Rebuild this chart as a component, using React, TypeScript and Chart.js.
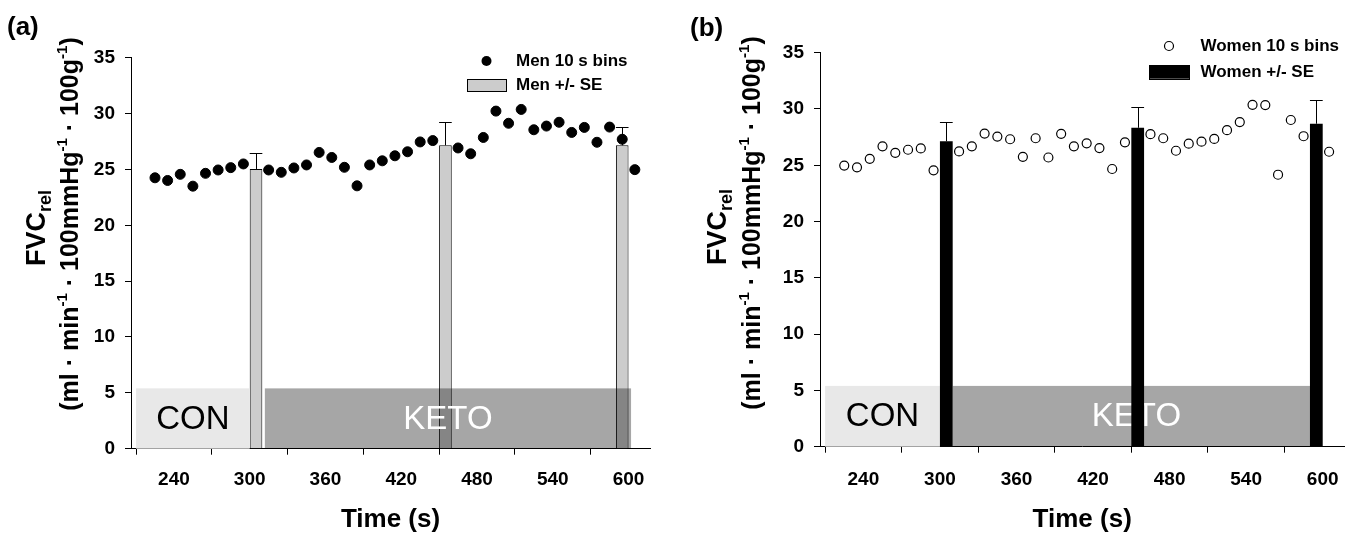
import React, { useEffect, useRef } from "react";
import { Chart, registerables } from "chart.js";

Chart.register(...registerables);

const FONT = "'Liberation Sans', Arial, Helvetica, sans-serif";

// ---- axes ----
const X_MIN = 206;
const X_MAX = 617;
const X_TICKS = [240, 300, 360, 420, 480, 540, 600];
const Y_MIN = 0;
const Y_MAX = 35;
const Y_TICKS = [0, 5, 10, 15, 20, 25, 30, 35];
const TICK_STEP = 60;
const BIN_WIDTH = 10;

// ---- panel (a): men ----
const MEN_TIME = [
  225, 235, 245, 255, 265, 275, 285, 295,
  315, 325, 335, 345, 355, 365, 375, 385, 395, 405, 415, 425, 435, 445,
  465, 475, 485, 495, 505, 515, 525, 535, 545, 555, 565, 575, 585,
  595, 605,
];
const MEN_FVC = [
  24.25, 24.01, 24.56, 23.5, 24.65, 24.95, 25.16, 25.49,
  24.95, 24.74, 25.13, 25.4, 26.52, 26.07, 25.19, 23.53, 25.4, 25.77, 26.22, 26.58, 27.46, 27.58,
  26.92, 26.4, 27.86, 30.22, 29.13, 30.37, 28.55, 28.88, 29.22, 28.31, 28.76, 27.43, 28.79,
  27.7, 24.98,
];

// ---- panel (b): women ----
const WOMEN_TIME = [
  225, 235, 245, 255, 265, 275, 285, 295,
  315, 325, 335, 345, 355, 365, 375, 385, 395, 405, 415, 425, 435, 445,
  465, 475, 485, 495, 505, 515, 525, 535, 545, 555, 565, 575, 585,
  605,
];
const WOMEN_FVC = [
  24.97, 24.82, 25.57, 26.68, 26.11, 26.38, 26.5, 24.55,
  26.23, 26.68, 27.82, 27.55, 27.31, 25.75, 27.4, 25.69, 27.79, 26.68, 26.95, 26.53, 24.67, 27.04,
  27.76, 27.4, 26.29, 26.92, 27.1, 27.34, 28.12, 28.84, 30.37, 30.35, 24.16, 29.02, 27.58,
  26.2,
];

// ---- mean +/- SE bins ----
const SE_TIME = [305, 455, 595];
const MEN_MEAN = [25.04, 27.16, 27.16];
const MEN_SE = [1.45, 2.06, 1.6];
const WOMEN_MEAN = [27.13, 28.33, 28.69];
const WOMEN_SE = [1.74, 1.84, 2.11];

// ---- phases ----
const PHASE_LABELS = ["CON", "KETO"];
const PHASE_TOP = 5.4;
const MEN_PHASE_START = [210, 312];
const MEN_PHASE_END = [300, 602];
const WOMEN_PHASE_START = [210, 310];
const WOMEN_PHASE_END = [300, 598];

// ---- texts ----
const X_TITLE = "Time (s)";
const MEN_LEGEND = ["Men 10 s bins", "Men +/- SE"];
const WOMEN_LEGEND = ["Women 10 s bins", "Women +/- SE"];

type Seg = { t: string; size: number; dy: number };
const Y_TITLE_LINE1: Seg[] = [
  { t: "FVC", size: 27, dy: 0 },
  { t: "rel", size: 18, dy: 6 },
];
const Y_TITLE_LINE2: Seg[] = [
  { t: "(ml · min", size: 25, dy: 0 },
  { t: "-1", size: 15, dy: -11 },
  { t: " · 100mmHg", size: 25, dy: 0 },
  { t: "-1", size: 15, dy: -11 },
  { t: " · 100g", size: 25, dy: 0 },
  { t: "-1", size: 15, dy: -11 },
  { t: ")", size: 25, dy: 0 },
];

type Panel = {
  W: number;
  H: number;
  area: { left: number; right: number; top: number; bottom: number };
  letter: string;
  letterPos: [number, number];
  titleBaselines: [number, number];
  titleCenterY: [number, number];
  xTickPad: number;
  legendText: string[];
  legendTextX: number;
  legendRowY: [number, number];
  markerX: number;
  legendBox: [number, number, number, number];
  hollow: boolean;
  barFill: string;
  phaseOnTop: boolean;
  time: number[];
  fvc: number[];
  mean: number[];
  se: number[];
  phaseStart: number[];
  phaseEnd: number[];
};

function drawSegs(ctx: CanvasRenderingContext2D, segs: Seg[], cy: number, baseX: number) {
  ctx.save();
  ctx.translate(baseX, cy);
  ctx.rotate(-Math.PI / 2);
  ctx.textBaseline = "alphabetic";
  ctx.textAlign = "left";
  let total = 0;
  const widths = segs.map((s) => {
    ctx.font = `bold ${s.size}px ${FONT}`;
    const w = ctx.measureText(s.t).width;
    total += w;
    return w;
  });
  let x = -total / 2;
  segs.forEach((s, i) => {
    ctx.font = `bold ${s.size}px ${FONT}`;
    ctx.fillText(s.t, x, s.dy);
    x += widths[i];
  });
  ctx.restore();
}

function makeChart(canvas: HTMLCanvasElement, p: Panel) {
  const phaseDraw = (chart: any) => {
    const { ctx, scales } = chart;
    const x = scales.x;
    const y = scales.y;
    const top = y.getPixelForValue(PHASE_TOP);
    const bottom = y.getPixelForValue(0);
    const fills = ["#e8e8e8", "rgba(0,0,0,0.35)"];
    const colors = ["#000000", "#ffffff"];
    ctx.save();
    p.phaseStart.forEach((s, i) => {
      const l = x.getPixelForValue(s);
      const r = x.getPixelForValue(p.phaseEnd[i]);
      ctx.fillStyle = fills[i];
      ctx.fillRect(l, top, r - l, bottom - top);
    });
    ctx.font = `33px ${FONT}`;
    ctx.textAlign = "center";
    ctx.textBaseline = "middle";
    p.phaseStart.forEach((s, i) => {
      const l = x.getPixelForValue(s);
      const r = x.getPixelForValue(p.phaseEnd[i]);
      ctx.fillStyle = colors[i];
      ctx.fillText(PHASE_LABELS[i], (l + r) / 2, (top + bottom) / 2 + 1);
    });
    ctx.restore();
  };

  const phasePlugin: any = { id: "phases" };
  if (p.phaseOnTop) phasePlugin.afterDatasetsDraw = phaseDraw;
  else phasePlugin.beforeDatasetsDraw = phaseDraw;

  const errPlugin = {
    id: "errbars",
    afterDatasetsDraw(chart: any) {
      const { ctx } = chart;
      const y = chart.scales.y;
      const meta = chart.getDatasetMeta(0);
      ctx.save();
      ctx.strokeStyle = "#000";
      ctx.lineWidth = 1;
      meta.data.forEach((bar: any, i: number) => {
        const { x: cx, y: top, width } = bar.getProps(["x", "y", "width"], true);
        const tip = Math.round(y.getPixelForValue(p.mean[i] + p.se[i])) + 0.5;
        const sx = Math.round(cx) + 0.5;
        ctx.beginPath();
        ctx.moveTo(sx, top);
        ctx.lineTo(sx, tip);
        ctx.moveTo(cx - width / 2, tip);
        ctx.lineTo(cx + width / 2, tip);
        ctx.stroke();
      });
      ctx.restore();
    },
  };

  const decoPlugin = {
    id: "deco",
    afterDraw(chart: any) {
      const { ctx } = chart;
      ctx.save();
      ctx.fillStyle = "#000";
      ctx.font = `bold 26px ${FONT}`;
      ctx.textAlign = "left";
      ctx.textBaseline = "middle";
      ctx.fillText(p.letter, p.letterPos[0], p.letterPos[1]);
      drawSegs(ctx, Y_TITLE_LINE1, p.titleCenterY[0], p.titleBaselines[0]);
      drawSegs(ctx, Y_TITLE_LINE2, p.titleCenterY[1], p.titleBaselines[1]);
      ctx.font = `bold 17px ${FONT}`;
      ctx.textAlign = "left";
      ctx.textBaseline = "middle";
      ctx.fillStyle = "#000";
      ctx.fillText(p.legendText[0], p.legendTextX, p.legendRowY[0]);
      ctx.fillText(p.legendText[1], p.legendTextX, p.legendRowY[1]);
      ctx.beginPath();
      ctx.arc(p.markerX, p.legendRowY[0], p.hollow ? 4.5 : 5, 0, Math.PI * 2);
      if (p.hollow) {
        ctx.fillStyle = "#fff";
        ctx.fill();
        ctx.lineWidth = 1.2;
        ctx.strokeStyle = "#000";
        ctx.stroke();
      } else {
        ctx.fillStyle = "#000";
        ctx.fill();
      }
      const [bx, by, bw, bh] = p.legendBox;
      ctx.fillStyle = p.barFill;
      ctx.fillRect(bx, by, bw, bh);
      ctx.lineWidth = 1;
      ctx.strokeStyle = "#000";
      ctx.strokeRect(Math.round(bx) + 0.5, Math.round(by) + 0.5, Math.round(bw), Math.round(bh));
      ctx.restore();
    },
  };

  const axisCommon = {
    grid: {
      display: true,
      drawOnChartArea: false,
      drawTicks: true,
      tickLength: 6,
      color: "#000",
      lineWidth: 1,
    },
    border: { display: true, color: "#000", width: 1 },
  };

  return new Chart(canvas, {
    type: "scatter",
    data: {
      datasets: [
        {
          type: "bar",
          data: SE_TIME.map((t, i) => ({ x: t, y: p.mean[i] })),
          backgroundColor: p.barFill,
          borderColor: "#000",
          borderWidth: p.hollow ? 0 : 1,
          borderSkipped: "start",
          categoryPercentage: 1,
          barPercentage: BIN_WIDTH / TICK_STEP,
          order: 2,
        } as any,
        {
          type: "scatter",
          data: p.time.map((t, i) => ({ x: t, y: p.fvc[i] })),
          pointRadius: p.hollow ? 4.5 : 5,
          pointBackgroundColor: p.hollow ? "#ffffff" : "#000000",
          pointBorderColor: "#000000",
          pointBorderWidth: p.hollow ? 1.2 : 1,
          order: 1,
        } as any,
      ],
    },
    options: {
      animation: false,
      responsive: false,
      devicePixelRatio: 1,
      events: [],
      layout: {
        padding: { left: 0, top: p.area.top, right: p.W - p.area.right, bottom: 0 },
      },
      plugins: {
        legend: { display: false },
        tooltip: { enabled: false },
        title: { display: false },
      },
      scales: {
        x: {
          type: "linear",
          min: X_MIN,
          max: X_MAX,
          offset: false,
          ...axisCommon,
          afterBuildTicks: (s: any) => {
            s.ticks = X_TICKS.map((v) => ({ value: v }));
          },
          afterFit: (s: any) => {
            s.height = p.H - p.area.bottom;
          },
          ticks: {
            color: "#000",
            font: { family: FONT, size: 19, weight: "bold" },
            padding: p.xTickPad,
            maxRotation: 0,
            autoSkip: false,
          },
          title: {
            display: true,
            text: X_TITLE,
            color: "#000",
            font: { family: FONT, size: 26, weight: "bold" },
            padding: { top: 0, bottom: 2 },
          },
        } as any,
        y: {
          type: "linear",
          min: Y_MIN,
          max: Y_MAX,
          ...axisCommon,
          afterBuildTicks: (s: any) => {
            s.ticks = Y_TICKS.map((v) => ({ value: v }));
          },
          afterFit: (s: any) => {
            s.width = p.area.left;
          },
          ticks: {
            color: "#000",
            font: { family: FONT, size: 19, weight: "bold" },
            padding: 10,
          },
        } as any,
      },
    },
    plugins: [phasePlugin, errPlugin, decoPlugin],
  } as any);
}

const PANEL_A: Panel = {
  W: 680,
  H: 537,
  area: { left: 131, right: 650, top: 57.7, bottom: 448.7 },
  letter: "(a)",
  letterPos: [7, 28],
  titleBaselines: [44.5, 78],
  titleCenterY: [228, 224],
  xTickPad: 14,
  legendText: MEN_LEGEND,
  legendTextX: 516,
  legendRowY: [61, 85.3],
  markerX: 486.5,
  legendBox: [467, 79.4, 39, 11.8],
  hollow: false,
  barFill: "#cccccc",
  phaseOnTop: true,
  time: MEN_TIME,
  fvc: MEN_FVC,
  mean: MEN_MEAN,
  se: MEN_SE,
  phaseStart: MEN_PHASE_START,
  phaseEnd: MEN_PHASE_END,
};

const PANEL_B: Panel = {
  W: 685,
  H: 537,
  area: { left: 140, right: 664.4, top: 52.7, bottom: 446.7 },
  letter: "(b)",
  letterPos: [10, 29],
  titleBaselines: [46, 80],
  titleCenterY: [227, 223],
  xTickPad: 16,
  legendText: WOMEN_LEGEND,
  legendTextX: 520.5,
  legendRowY: [46, 72],
  markerX: 489,
  legendBox: [469, 65.2, 40, 13.5],
  hollow: true,
  barFill: "#000000",
  phaseOnTop: false,
  time: WOMEN_TIME,
  fvc: WOMEN_FVC,
  mean: WOMEN_MEAN,
  se: WOMEN_SE,
  phaseStart: WOMEN_PHASE_START,
  phaseEnd: WOMEN_PHASE_END,
};

function PanelChart({ panel, left }: { panel: Panel; left: number }) {
  const ref = useRef<HTMLCanvasElement | null>(null);
  useEffect(() => {
    if (!ref.current) return;
    const chart = makeChart(ref.current, panel);
    return () => chart.destroy();
  }, [panel]);
  return (
    <canvas
      ref={ref}
      width={panel.W}
      height={panel.H}
      style={{ position: "absolute", left, top: 0, width: panel.W, height: panel.H }}
    />
  );
}

export default function App() {
  return (
    <div
      style={{
        position: "absolute",
        left: 0,
        top: 0,
        width: 1365,
        height: 537,
        background: "#ffffff",
        overflow: "hidden",
      }}
    >
      <PanelChart panel={PANEL_A} left={0} />
      <PanelChart panel={PANEL_B} left={680} />
    </div>
  );
}
